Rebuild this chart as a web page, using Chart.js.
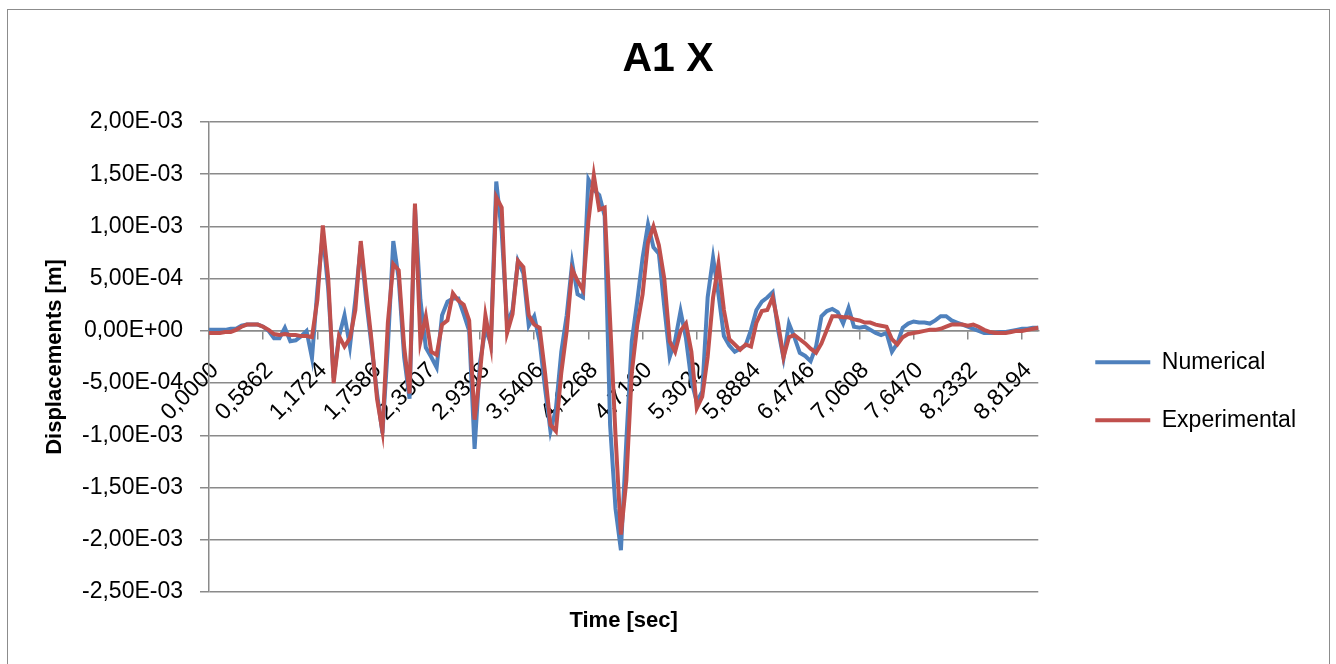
<!DOCTYPE html>
<html>
<head>
<meta charset="utf-8">
<script src="https://cdn.jsdelivr.net/npm/chart.js@4/dist/chart.umd.min.js"></script>
<style>
  html, body { margin: 0; padding: 0; background: #fff; }
  #wrap { position: relative; width: 1336px; height: 664px; overflow: hidden; }
  #frame { position: absolute; left: 7px; top: 9px; width: 1321px; height: 700px; border: 1px solid #8c8c8c; pointer-events: none; }
</style>
</head>
<body>
<div id="wrap">
  <canvas id="a1x-chart" width="1336" height="664"></canvas>
  <div id="frame"></div>
</div>
<script>
// Tick labels of the time axis (one label every 10 samples)
const timeLabels = ['0,0000', '0,5862', '1,1724', '1,7586', '2,3507', '2,9398', '3,5406', '4,1268',
    '4,7160', '5,3022', '5,8884', '6,4746', '7,0608', '7,6470', '8,2332', '8,8194'];

// Displacements, in units of 1e-4 m
const numerical = [
    0.1, 0.1, 0.1, 0.1, 0.2, 0.2, 0.5, 0.6, 0.6, 0.6,
    0.4, 0.0, -0.7, -0.7, 0.3, -1.0, -0.9, -0.5, 0.0, -2.6,
    4.0, 9.3, 4.0, -4.5, -0.5, 1.5, -1.5, 3.0, 8.2, 2.9,
    -1.5, -6.0, -9.8, -1.5, 8.6, 5.0, -2.5, -6.5, 11.8, 3.0,
    -1.6, -2.5, -3.5, 1.5, 2.8, 3.1, 3.1, 1.6, 0.0, -11.3,
    -3.0, 0.2, -1.2, 14.3, 9.5, 0.7, 2.0, 6.7, 5.5, 0.5,
    1.4, -1.0, -5.5, -9.6, -7.5, -2.0, 1.5, 6.5, 3.5, 3.2,
    14.5, 13.5, 13.0, 11.0, -9.0, -17.0, -21.0, -10.5, -1.0, 2.8,
    7.0, 10.2, 8.0, 7.4, 2.3, -2.5, -0.9, 1.9, -0.7, -4.8,
    -6.8, -5.8, 3.2, 7.0, 3.5, -0.5, -1.4, -2.0, -1.7, -1.4,
    0.1, 2.0, 2.8, 3.2, 3.7, 0.1, -2.6, 0.7, -0.6, -2.1,
    -2.4, -2.9, -1.5, 1.4, 1.9, 2.1, 1.8, 0.7, 2.2, 0.4,
    0.3, 0.4, 0.1, -0.2, -0.4, -0.2, -2.0, -1.2, 0.3, 0.7,
    0.9, 0.8, 0.8, 0.7, 1.0, 1.4, 1.4, 1.0, 0.8, 0.6,
    0.4, 0.2, 0.0, -0.2, -0.2, -0.2, -0.1, -0.1, 0.0, 0.1,
    0.2, 0.2, 0.3, 0.3
];
const experimental = [
    -0.2, -0.2, -0.2, -0.1, -0.1, 0.1, 0.4, 0.6, 0.6, 0.6,
    0.4, 0.1, -0.3, -0.4, -0.3, -0.4, -0.4, -0.5, -0.5, -0.6,
    3.0, 10.1, 5.0, -5.0, -0.5, -1.5, -0.7, 2.0, 8.6, 3.7,
    -1.0, -6.5, -9.6, 0.8, 6.4, 5.8, -1.5, -6.0, 12.2, -1.0,
    1.4, -2.0, -2.3, 0.6, 1.0, 3.6, 2.9, 2.5, 1.0, -8.5,
    -4.0, 1.5, -1.4, 12.8, 11.8, -0.2, 1.6, 6.7, 6.1, 1.5,
    0.6, 0.3, -4.0, -9.0, -9.6, -4.0, 0.0, 5.9, 4.8, 3.9,
    10.5, 14.9, 11.6, 11.8, 1.0, -10.0, -19.5, -14.3, -4.0, 0.5,
    3.5, 8.5, 10.0, 8.2, 5.0, -1.0, -2.0, 0.0, 0.7, -2.0,
    -7.4, -6.3, -2.5, 3.2, 6.4, 2.0, -0.8, -1.3, -1.8, -1.3,
    -1.5, 0.8, 1.9, 2.0, 3.2, 0.7, -2.5, -0.6, -0.4, -0.8,
    -1.2, -1.7, -2.1, -1.2, 0.1, 1.4, 1.4, 1.3, 1.3, 1.1,
    1.0, 0.8, 0.8, 0.6, 0.5, 0.4, -0.8, -1.3, -0.6, -0.3,
    -0.2, -0.1, 0.0, 0.1, 0.1, 0.2, 0.4, 0.6, 0.6, 0.6,
    0.5, 0.6, 0.4, 0.1, -0.1, -0.2, -0.2, -0.2, -0.1, 0.0,
    0.0, 0.1, 0.2, 0.3
];
const labelEvery = 10;
const samples = numerical.map((_, i) => i);

const GRID = '#8a8a8a';
const BLUE = '#4f81bd';
const RED = '#c0504d';

Chart.defaults.font.family = '"Liberation Sans", Arial, sans-serif';
Chart.defaults.color = '#000';

// 5,00E-04 style labels
function sciLabel(v) {
    if (Math.abs(v) < 1e-12) return '0,00E+00';
    const parts = v.toExponential(2).split('e');
    const exp = parseInt(parts[1], 10);
    return parts[0].replace('.', ',') + 'E' + (exp < 0 ? '-' : '+') + String(Math.abs(exp)).padStart(2, '0');
}

const ctx = document.getElementById('a1x-chart').getContext('2d');
new Chart(ctx, {
    type: 'line',
    data: {
        labels: samples,
        datasets: [{
            label: 'Numerical',
            data: numerical.map(v => v * 1e-4),
            borderColor: BLUE,
            backgroundColor: BLUE,
            borderWidth: 4,
            order: 1,
            xAxisID: 'x',
            yAxisID: 'y'
        }, {
            label: 'Experimental',
            data: experimental.map(v => v * 1e-4),
            borderColor: RED,
            backgroundColor: RED,
            borderWidth: 4,
            order: 0,
            xAxisID: 'x',
            yAxisID: 'y'
        }]
    },
    options: {
        responsive: false,
        animation: false,
        elements: { point: { radius: 0 }, line: { tension: 0 } },
        layout: { padding: { left: 30, right: 30, top: 0, bottom: 29.6 } },
        plugins: {
            title: {
                display: true,
                text: 'A1 X',
                font: { size: 41, weight: 'bold' },
                padding: { top: 35, bottom: 37.8 }
            },
            legend: {
                position: 'right',
                align: 'center',
                fullSize: false,
                maxWidth: 320,
                title: { display: true, text: ' ', padding: 0, font: { size: 57, lineHeight: 1.2 } },
                labels: {
                    usePointStyle: true,
                    pointStyle: 'line',
                    pointStyleWidth: 55,
                    padding: 35,
                    color: '#000',
                    font: { size: 23 },
                    sort: (a, b) => a.datasetIndex - b.datasetIndex
                }
            },
            tooltip: { enabled: false }
        },
        scales: {
            x: {
                type: 'category',
                axis: 'x',
                position: { y: 0 },
                grid: {
                    drawOnChartArea: false,
                    drawTicks: true,
                    tickLength: 8,
                    lineWidth: 1.5,
                    tickColor: c => (c.index % labelEvery === 0 ? GRID : 'rgba(0,0,0,0)')
                },
                border: { color: GRID, width: 1.5 },
                ticks: {
                    autoSkip: false,
                    minRotation: 45,
                    maxRotation: 45,
                    padding: 18,
                    labelOffset: 6,
                    font: { size: 23 },
                    callback: (v, i) => (i % labelEvery === 0 ? timeLabels[i / labelEvery] : '')
                }
            },
            xt: {
                type: 'linear',
                position: 'bottom',
                grid: { display: false },
                border: { display: false },
                ticks: { display: false },
                title: {
                    display: true,
                    text: 'Time [sec]',
                    font: { size: 22, weight: 'bold' },
                    padding: { top: 8, bottom: 0 }
                }
            },
            y: {
                type: 'linear',
                position: 'left',
                min: -0.0025,
                max: 0.002,
                grid: { color: GRID, lineWidth: 1.5, tickLength: 9 },
                border: { color: GRID, width: 1.5 },
                ticks: {
                    stepSize: 0.0005,
                    padding: 17,
                    font: { size: 23 },
                    callback: v => sciLabel(v)
                },
                title: {
                    display: true,
                    text: 'Displacements [m]',
                    font: { size: 22, weight: 'bold' },
                    padding: { top: 11.8, bottom: 0 }
                },
                afterFit: s => { s.width = 179; }
            },
            yr: {
                type: 'linear',
                position: 'right',
                grid: { display: false },
                border: { display: false },
                ticks: { display: false },
                afterFit: s => { s.width = 22; }
            }
        }
    }
});
</script>
</body>
</html>
